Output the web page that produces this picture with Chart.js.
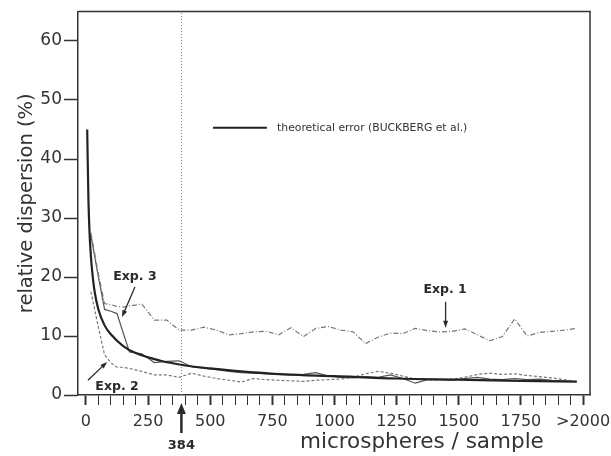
<!DOCTYPE html>
<html>
<head>
<meta charset="utf-8">
<script src="https://cdn.jsdelivr.net/npm/chart.js@4.4.1/dist/chart.umd.min.js"></script>
<style>
  html, body { margin: 0; padding: 0; background: #fff; }
  #wrap { width: 611px; height: 456px; }
</style>
</head>
<body>
<div id="wrap"><canvas id="canva" width="611" height="456"></canvas></div>
<script>
// sample sizes (microspheres / sample) for the experimental curves
const sampleSizes = [20, 50, 75, 100, 125, 150, 175, 225, 275, 325, 375, 425, 475, 525, 575, 625, 675, 725, 775, 825,
    875, 925, 975, 1025, 1075, 1125, 1175, 1225, 1275, 1325, 1375, 1425, 1475, 1525, 1575, 1625, 1675, 1725, 1775, 1825,
    1875, 1925, 1975];

const exp1 = [27.5, 20.5, 15.5, 15.3, 15.0, 14.9, 15.1, 15.4, 12.7, 12.7, 11.0, 11.0, 11.5, 11.0, 10.2, 10.4, 10.7, 10.8, 10.2, 11.4,
    9.9, 11.3, 11.6, 11.0, 10.7, 8.7, 9.8, 10.5, 10.4, 11.3, 10.9, 10.7, 10.8, 11.2, 10.2, 9.2, 9.9, 12.9, 10.0, 10.6,
    10.8, 11.0, 11.3];

const exp2 = [17.5, 11.5, 6.8, 5.5, 4.7, 4.7, 4.5, 4.0, 3.4, 3.4, 3.0, 3.7, 3.2, 2.8, 2.5, 2.2, 2.8, 2.6, 2.5, 2.4,
    2.3, 2.5, 2.6, 2.7, 3.0, 3.6, 4.0, 3.7, 3.2, 2.7, 2.5, 2.6, 2.7, 3.0, 3.5, 3.7, 3.5, 3.6, 3.3, 3.1,
    2.9, 2.6, 2.3];

const exp3 = [27, 20, 14.5, 14.2, 13.8, 10.5, 7.3, 7.0, 5.5, 5.7, 5.8, 4.8, 4.5, 4.3, 4.0, 3.8, 3.7, 3.6, 3.5, 3.4,
    3.5, 3.8, 3.2, 3.0, 2.9, 3.1, 3.0, 3.4, 2.8, 2.0, 2.6, 2.6, 2.5, 2.8, 3.0, 2.7, 2.6, 2.8, 2.6, 2.7,
    2.5, 2.4, 2.3];

// theoretical error curve (BUCKBERG et al.)
const theoryN = [5, 10, 15, 20, 25, 35, 50, 75, 100, 150, 200, 300, 400, 500, 600, 800, 1000, 1250, 1500, 1750, 1975];
const theoryErr = [45, 33, 27, 23.5, 21, 17.5, 14.5, 11.8, 10.3, 8.3, 7.1, 5.8, 5.0, 4.5, 4.1, 3.5, 3.2, 2.8, 2.6, 2.4, 2.25];

const xMajorTicks = [0, 250, 500, 750, 1000, 1250, 1500, 1750, 2000];
const xTickLabels = ['0', '250', '500', '750', '1000', '1250', '1500', '1750', '>2000'];
const yTickValues = [0, 10, 20, 30, 40, 50, 60];
const markedSize = 384;

const toPoints = (xs, ys) => xs.map((v, i) => ({ x: v, y: ys[i] }));

function arrow(ctx, x1, y1, x2, y2, len, half) {
    const ang = Math.atan2(y2 - y1, x2 - x1);
    ctx.beginPath();
    ctx.moveTo(x1, y1);
    ctx.lineTo(x2 - Math.cos(ang) * len * 0.6, y2 - Math.sin(ang) * len * 0.6);
    ctx.stroke();
    ctx.beginPath();
    ctx.moveTo(x2, y2);
    ctx.lineTo(x2 - Math.cos(ang) * len + Math.sin(ang) * half, y2 - Math.sin(ang) * len - Math.cos(ang) * half);
    ctx.lineTo(x2 - Math.cos(ang) * len - Math.sin(ang) * half, y2 - Math.sin(ang) * len + Math.cos(ang) * half);
    ctx.closePath();
    ctx.fill();
}

const annotations = {
    id: 'annotations',
    beforeDatasetsDraw(chart) {
        const { ctx, chartArea: a, scales: { x } } = chart;
        const px = Math.round(x.getPixelForValue(markedSize)) + 0.5;
        ctx.save();
        ctx.strokeStyle = '#888';
        ctx.lineWidth = 1;
        ctx.setLineDash([1, 2]);
        ctx.beginPath();
        ctx.moveTo(px, a.bottom);
        ctx.lineTo(px, a.top);
        ctx.stroke();
        ctx.restore();
    },
    afterDraw(chart) {
        const { ctx, chartArea: a, scales: { x, y } } = chart;
        ctx.save();
        // top and right frame
        ctx.strokeStyle = '#333';
        ctx.lineWidth = 1.5;
        ctx.beginPath();
        ctx.moveTo(a.left, a.top);
        ctx.lineTo(a.right, a.top);
        ctx.lineTo(a.right, a.bottom);
        ctx.stroke();

        ctx.fillStyle = '#2a2a2a';
        ctx.strokeStyle = '#2a2a2a';
        ctx.lineWidth = 1.3;
        ctx.textAlign = 'center';
        ctx.textBaseline = 'middle';
        ctx.font = 'bold 12.5px "DejaVu Sans"';
        ctx.fillText('Exp. 3', x.getPixelForValue(197), y.getPixelForValue(20));
        arrow(ctx, x.getPixelForValue(197), y.getPixelForValue(18.3), x.getPixelForValue(145), y.getPixelForValue(13.2), 7, 2.5);
        ctx.fillText('Exp. 2', x.getPixelForValue(125), y.getPixelForValue(1.4));
        arrow(ctx, x.getPixelForValue(8), y.getPixelForValue(2.5), x.getPixelForValue(85), y.getPixelForValue(5.6), 7, 2.5);
        ctx.fillText('Exp. 1', x.getPixelForValue(1445), y.getPixelForValue(17.8));
        arrow(ctx, x.getPixelForValue(1447), y.getPixelForValue(15.8), x.getPixelForValue(1447), y.getPixelForValue(11.4), 7, 2.5);

        // marker below the axis at 384
        const mx = x.getPixelForValue(markedSize);
        ctx.lineWidth = 2.5;
        arrow(ctx, mx, a.bottom + 38, mx, a.bottom + 8, 11, 4.5);
        ctx.font = 'bold 13px "DejaVu Sans"';
        ctx.fillText(String(markedSize), mx, a.bottom + 51);

        // legend
        ctx.lineWidth = 2;
        ctx.strokeStyle = '#222';
        const ly = y.getPixelForValue(45.3);
        ctx.beginPath();
        ctx.moveTo(x.getPixelForValue(511), ly);
        ctx.lineTo(x.getPixelForValue(728), ly);
        ctx.stroke();
        ctx.textAlign = 'left';
        ctx.font = '10.8px "DejaVu Sans"';
        ctx.fillStyle = '#333';
        ctx.fillText(chart.data.datasets[0].label, x.getPixelForValue(769), ly);

        // x axis title
        ctx.font = '21.5px "DejaVu Sans"';
        ctx.fillStyle = '#333';
        ctx.textAlign = 'left';
        ctx.fillText('microspheres / sample', 300, 442);
        ctx.restore();
    }
};

const canvas = document.querySelector('#canva').getContext('2d');
const chart = new Chart(canvas, {
    type: 'line',
    data: {
        datasets: [
            {
                label: 'theoretical error (BUCKBERG et al.)',
                data: toPoints(theoryN, theoryErr),
                borderColor: '#222',
                borderWidth: 2.2,
                cubicInterpolationMode: 'monotone',
            },
            {
                label: 'Exp. 1',
                data: toPoints(sampleSizes, exp1),
                borderColor: '#777',
                borderWidth: 1.2,
                borderDash: [5, 2, 1, 2],
            },
            {
                label: 'Exp. 2',
                data: toPoints(sampleSizes, exp2),
                borderColor: '#777',
                borderWidth: 1.2,
                borderDash: [3, 2],
            },
            {
                label: 'Exp. 3',
                data: toPoints(sampleSizes, exp3),
                borderColor: '#555',
                borderWidth: 1.2,
            },
        ],
    },
    options: {
        responsive: false,
        animation: false,
        elements: { point: { radius: 0 }, line: { tension: 0, fill: false } },
        layout: { padding: { top: 11.5, right: 21, left: 0, bottom: 0 } },
        scales: {
            x: {
                type: 'linear',
                min: -32,
                max: 2028,
                afterBuildTicks: (scale) => {
                    const t = [];
                    for (let v = 0; v <= 2000; v += 50) t.push({ value: v });
                    scale.ticks = t;
                },
                afterFit: (scale) => {
                    scale.height = 61;
                    scale.paddingLeft = 0;
                    scale.paddingRight = 0;
                },
                ticks: {
                    autoSkip: false,
                    maxRotation: 0,
                    padding: 7,
                    color: '#333',
                    font: { family: '"DejaVu Sans"', size: 16 },
                    callback: (value) => {
                        const i = xMajorTicks.indexOf(value);
                        return i >= 0 ? xTickLabels[i] : '';
                    },
                },
                grid: {
                    drawOnChartArea: false,
                    tickLength: 10,
                    tickColor: '#333',
                    tickWidth: (c) => (xMajorTicks.includes(c.tick.value) ? 2 : 1),
                },
                border: { color: '#333', width: 1.5 },
            },
            y: {
                min: 0,
                max: 65,
                afterBuildTicks: (scale) => {
                    scale.ticks = yTickValues.map((v) => ({ value: v }));
                },
                afterFit: (scale) => {
                    scale.width = 78;
                    scale.paddingTop = 0;
                    scale.paddingBottom = 0;
                },
                ticks: {
                    padding: 2,
                    color: '#333',
                    font: { family: '"DejaVu Sans"', size: 17 },
                },
                grid: {
                    drawOnChartArea: false,
                    tickLength: 14,
                    tickColor: '#333',
                    tickWidth: 1.5,
                },
                border: { color: '#333', width: 1.5 },
                title: {
                    display: true,
                    text: 'relative dispersion (%)',
                    color: '#333',
                    font: { family: '"DejaVu Sans"', size: 19.5 },
                    padding: { top: 15, bottom: 0 },
                },
            },
        },
        plugins: {
            legend: { display: false },
            tooltip: { enabled: false },
        },
    },
    plugins: [annotations],
});
</script>
</body>
</html>
